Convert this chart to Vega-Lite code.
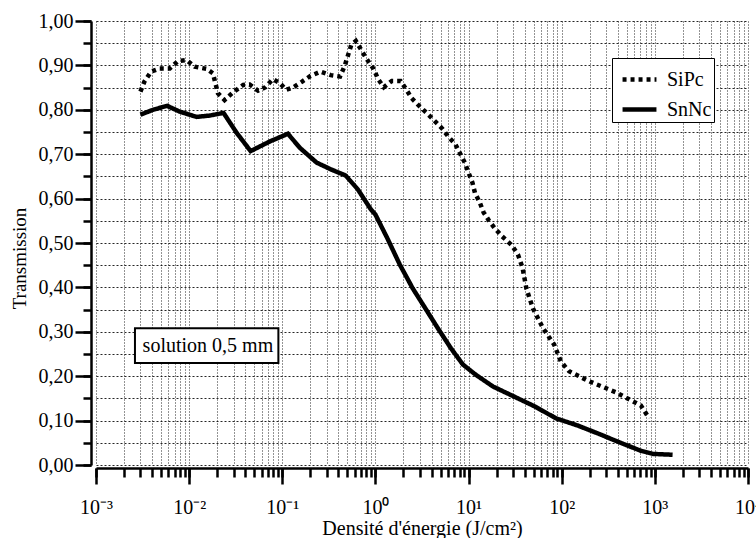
{
  "$schema": "https://vega.github.io/schema/vega-lite/v6.json",
  "width": 652,
  "height": 444,
  "autosize": {"type": "none"},
  "padding": {"left": 96, "top": 21, "right": 8, "bottom": 73},
  "background": "white",
  "config": {
    "font": "Liberation Serif",
    "view": {"stroke": null}
  },
  "datasets": {
    "curves": [
      {"sample": "SiPc", "energy": 0.003, "transmission": 0.841},
      {"sample": "SiPc", "energy": 0.0033, "transmission": 0.863},
      {"sample": "SiPc", "energy": 0.0039, "transmission": 0.886},
      {"sample": "SiPc", "energy": 0.0048, "transmission": 0.893},
      {"sample": "SiPc", "energy": 0.0062, "transmission": 0.893},
      {"sample": "SiPc", "energy": 0.0076, "transmission": 0.91},
      {"sample": "SiPc", "energy": 0.0094, "transmission": 0.912},
      {"sample": "SiPc", "energy": 0.0115, "transmission": 0.897},
      {"sample": "SiPc", "energy": 0.0155, "transmission": 0.892},
      {"sample": "SiPc", "energy": 0.018, "transmission": 0.882},
      {"sample": "SiPc", "energy": 0.0204, "transmission": 0.837},
      {"sample": "SiPc", "energy": 0.024, "transmission": 0.822},
      {"sample": "SiPc", "energy": 0.0295, "transmission": 0.839},
      {"sample": "SiPc", "energy": 0.038, "transmission": 0.856},
      {"sample": "SiPc", "energy": 0.0447, "transmission": 0.857},
      {"sample": "SiPc", "energy": 0.055, "transmission": 0.843},
      {"sample": "SiPc", "energy": 0.066, "transmission": 0.851},
      {"sample": "SiPc", "energy": 0.079, "transmission": 0.869},
      {"sample": "SiPc", "energy": 0.093, "transmission": 0.861},
      {"sample": "SiPc", "energy": 0.11, "transmission": 0.845},
      {"sample": "SiPc", "energy": 0.132, "transmission": 0.851},
      {"sample": "SiPc", "energy": 0.162, "transmission": 0.863},
      {"sample": "SiPc", "energy": 0.2, "transmission": 0.876},
      {"sample": "SiPc", "energy": 0.257, "transmission": 0.886},
      {"sample": "SiPc", "energy": 0.331, "transmission": 0.878},
      {"sample": "SiPc", "energy": 0.417, "transmission": 0.875},
      {"sample": "SiPc", "energy": 0.468, "transmission": 0.899},
      {"sample": "SiPc", "energy": 0.55, "transmission": 0.946},
      {"sample": "SiPc", "energy": 0.617, "transmission": 0.955},
      {"sample": "SiPc", "energy": 0.708, "transmission": 0.934},
      {"sample": "SiPc", "energy": 0.813, "transmission": 0.913},
      {"sample": "SiPc", "energy": 0.955, "transmission": 0.892},
      {"sample": "SiPc", "energy": 1.07, "transmission": 0.869},
      {"sample": "SiPc", "energy": 1.23, "transmission": 0.851},
      {"sample": "SiPc", "energy": 1.5, "transmission": 0.865},
      {"sample": "SiPc", "energy": 1.86, "transmission": 0.865},
      {"sample": "SiPc", "energy": 2.14, "transmission": 0.846},
      {"sample": "SiPc", "energy": 2.45, "transmission": 0.826},
      {"sample": "SiPc", "energy": 3.0, "transmission": 0.807},
      {"sample": "SiPc", "energy": 3.55, "transmission": 0.793},
      {"sample": "SiPc", "energy": 4.37, "transmission": 0.774},
      {"sample": "SiPc", "energy": 5.25, "transmission": 0.757},
      {"sample": "SiPc", "energy": 6.03, "transmission": 0.74},
      {"sample": "SiPc", "energy": 7.24, "transmission": 0.722},
      {"sample": "SiPc", "energy": 8.13, "transmission": 0.701},
      {"sample": "SiPc", "energy": 9.12, "transmission": 0.681},
      {"sample": "SiPc", "energy": 10, "transmission": 0.658},
      {"sample": "SiPc", "energy": 11, "transmission": 0.636},
      {"sample": "SiPc", "energy": 11.7, "transmission": 0.613},
      {"sample": "SiPc", "energy": 13.2, "transmission": 0.591},
      {"sample": "SiPc", "energy": 14.5, "transmission": 0.569},
      {"sample": "SiPc", "energy": 16.6, "transmission": 0.55},
      {"sample": "SiPc", "energy": 19.5, "transmission": 0.531},
      {"sample": "SiPc", "energy": 22.9, "transmission": 0.515},
      {"sample": "SiPc", "energy": 28.8, "transmission": 0.496},
      {"sample": "SiPc", "energy": 33.9, "transmission": 0.474},
      {"sample": "SiPc", "energy": 38, "transmission": 0.444},
      {"sample": "SiPc", "energy": 41.7, "transmission": 0.398},
      {"sample": "SiPc", "energy": 49, "transmission": 0.353},
      {"sample": "SiPc", "energy": 63, "transmission": 0.308},
      {"sample": "SiPc", "energy": 83, "transmission": 0.271},
      {"sample": "SiPc", "energy": 98, "transmission": 0.233},
      {"sample": "SiPc", "energy": 120, "transmission": 0.211},
      {"sample": "SiPc", "energy": 200, "transmission": 0.188},
      {"sample": "SiPc", "energy": 380, "transmission": 0.164},
      {"sample": "SiPc", "energy": 708, "transmission": 0.134},
      {"sample": "SiPc", "energy": 870, "transmission": 0.105},
      {"sample": "SnNc", "energy": 0.003, "transmission": 0.789},
      {"sample": "SnNc", "energy": 0.0041, "transmission": 0.8},
      {"sample": "SnNc", "energy": 0.0058, "transmission": 0.809},
      {"sample": "SnNc", "energy": 0.0079, "transmission": 0.796},
      {"sample": "SnNc", "energy": 0.012, "transmission": 0.784},
      {"sample": "SnNc", "energy": 0.0166, "transmission": 0.787},
      {"sample": "SnNc", "energy": 0.0234, "transmission": 0.793},
      {"sample": "SnNc", "energy": 0.0324, "transmission": 0.748},
      {"sample": "SnNc", "energy": 0.0457, "transmission": 0.707},
      {"sample": "SnNc", "energy": 0.0741, "transmission": 0.729},
      {"sample": "SnNc", "energy": 0.115, "transmission": 0.746},
      {"sample": "SnNc", "energy": 0.155, "transmission": 0.714},
      {"sample": "SnNc", "energy": 0.234, "transmission": 0.681},
      {"sample": "SnNc", "energy": 0.331, "transmission": 0.666},
      {"sample": "SnNc", "energy": 0.479, "transmission": 0.652},
      {"sample": "SnNc", "energy": 0.646, "transmission": 0.621},
      {"sample": "SnNc", "energy": 0.891, "transmission": 0.576},
      {"sample": "SnNc", "energy": 1.0, "transmission": 0.564},
      {"sample": "SnNc", "energy": 1.34, "transmission": 0.511},
      {"sample": "SnNc", "energy": 1.83, "transmission": 0.451},
      {"sample": "SnNc", "energy": 2.51, "transmission": 0.398},
      {"sample": "SnNc", "energy": 3.43, "transmission": 0.353},
      {"sample": "SnNc", "energy": 4.68, "transmission": 0.308},
      {"sample": "SnNc", "energy": 6.46, "transmission": 0.263},
      {"sample": "SnNc", "energy": 8.71, "transmission": 0.226},
      {"sample": "SnNc", "energy": 12, "transmission": 0.203},
      {"sample": "SnNc", "energy": 18.2, "transmission": 0.177},
      {"sample": "SnNc", "energy": 30.9, "transmission": 0.154},
      {"sample": "SnNc", "energy": 51.3, "transmission": 0.132},
      {"sample": "SnNc", "energy": 87, "transmission": 0.105},
      {"sample": "SnNc", "energy": 148, "transmission": 0.089},
      {"sample": "SnNc", "energy": 245, "transmission": 0.071},
      {"sample": "SnNc", "energy": 417, "transmission": 0.051},
      {"sample": "SnNc", "energy": 708, "transmission": 0.032},
      {"sample": "SnNc", "energy": 955, "transmission": 0.025},
      {"sample": "SnNc", "energy": 1550, "transmission": 0.023}
    ],
    "note": [{"label": "solution 0,5 mm"}]
  },
  "resolve": {"axis": {"x": "independent", "y": "independent"}},
  "layer": [
    {
      "data": {"name": "note"},
      "mark": {"type": "rect", "fill": "white", "stroke": "black", "strokeWidth": 2},
      "encoding": {
        "x": {
          "datum": 0.00262,
          "type": "quantitative",
          "scale": {"type": "log", "domain": [0.001, 10000], "nice": false},
          "axis": {
            "orient": "bottom",
            "values": [0.001,0.002,0.003,0.004,0.005,0.006,0.007,0.008,0.009,
                       0.01,0.02,0.03,0.04,0.05,0.06,0.07,0.08,0.09,
                       0.1,0.2,0.3,0.4,0.5,0.6,0.7,0.8,0.9,
                       1,2,3,4,5,6,7,8,9,
                       10,20,30,40,50,60,70,80,90,
                       100,200,300,400,500,600,700,800,900,
                       1000,2000,3000,4000,5000,6000,7000,8000,9000,10000],
            "labels": false,
            "domain": false,
            "tickSize": 9,
            "tickColor": "black",
            "tickWidth": 2.5,
            "offset": 3,
            "grid": true,
            "gridColor": "black",
            "gridDash": [1, 2],
            "gridWidth": 1,
            "gridOpacity": 0.85,
            "title": null
          }
        },
        "x2": {"datum": 0.0908},
        "y": {
          "datum": 0.308,
          "type": "quantitative",
          "scale": {"domain": [0, 1], "nice": false},
          "axis": {
            "orient": "left",
            "values": [0,0.05,0.1,0.15,0.2,0.25,0.3,0.35,0.4,0.45,0.5,0.55,0.6,0.65,0.7,0.75,0.8,0.85,0.9,0.95,1],
            "labels": false,
            "domain": false,
            "tickSize": 8,
            "tickColor": "black",
            "tickWidth": 2.5,
            "offset": 5,
            "grid": true,
            "gridColor": "black",
            "gridDash": [2, 2],
            "gridWidth": 1,
            "gridOpacity": 0.85,
            "title": null
          }
        },
        "y2": {"datum": 0.23}
      }
    },
    {
      "data": {"name": "note"},
      "mark": {"type": "text", "font": "Liberation Serif", "fontSize": 20, "color": "black", "baseline": "middle", "align": "center"},
      "encoding": {
        "x": {"datum": 0.0159, "type": "quantitative", "axis": null},
        "y": {"datum": 0.269, "type": "quantitative", "axis": null},
        "text": {"field": "label"}
      }
    },
    {
      "data": {"name": "curves"},
      "mark": {"type": "line", "strokeWidth": 4.5, "color": "black", "strokeCap": "butt"},
      "encoding": {
        "x": {
          "field": "energy",
          "type": "quantitative",
          "axis": {
            "orient": "bottom",
            "values": [0.001, 0.01, 0.1, 1, 10, 100, 1000, 10000],
            "labelExpr": "datum.value == 0.001 ? '10⁻³' : datum.value == 0.01 ? '10⁻²' : datum.value == 0.1 ? '10⁻¹' : datum.value == 1 ? '10⁰' : datum.value == 10 ? '10¹' : datum.value == 100 ? '10²' : datum.value == 1000 ? '10³' : '10⁴'",
            "labelFont": "Liberation Serif",
            "labelFontSize": 20,
            "labelColor": "black",
            "labelPadding": 13,
            "labelFlush": false,
            "labelOverlap": false,
            "tickSize": 16,
            "tickColor": "black",
            "tickWidth": 2.5,
            "domainColor": "black",
            "domainWidth": 2.5,
            "offset": 3,
            "grid": false,
            "title": "Densité d'énergie (J/cm²)",
            "titleFont": "Liberation Serif",
            "titleFontSize": 20,
            "titleFontWeight": "normal",
            "titleColor": "black",
            "titleBaseline": "alphabetic",
            "titleY": 66
          }
        },
        "y": {
          "field": "transmission",
          "type": "quantitative",
          "axis": {
            "orient": "left",
            "values": [0, 0.1, 0.2, 0.3, 0.4, 0.5, 0.6, 0.7, 0.8, 0.9, 1],
            "labelExpr": "replace(format(datum.value, '.2f'), '.', ',')",
            "labelFont": "Liberation Serif",
            "labelFontSize": 20,
            "labelColor": "black",
            "labelPadding": 2,
            "labelFlush": false,
            "labelOverlap": false,
            "tickSize": 16,
            "tickColor": "black",
            "tickWidth": 2.5,
            "domainColor": "black",
            "domainWidth": 2.5,
            "offset": 5,
            "grid": false,
            "title": "Transmission",
            "titleFont": "Liberation Serif",
            "titleFontSize": 19,
            "titleFontWeight": "normal",
            "titleColor": "black",
            "titleAngle": 270,
            "titleBaseline": "alphabetic",
            "titleAlign": "center",
            "titleX": -66,
            "titleY": 237
          }
        },
        "strokeDash": {
          "field": "sample",
          "type": "nominal",
          "scale": {"domain": ["SiPc", "SnNc"], "range": [[4, 4], [1, 0]]},
          "legend": {
            "title": null,
            "orient": "none",
            "legendX": 516,
            "legendY": 37,
            "symbolType": "stroke",
            "symbolSize": 1150,
            "symbolStrokeWidth": 4.5,
            "symbolStrokeColor": "black",
            "symbolOffset": 6,
            "labelFont": "Liberation Serif",
            "labelFontSize": 20,
            "labelColor": "black",
            "labelOffset": 8,
            "rowPadding": -12,
            "padding": 2,
            "strokeColor": "black",
            "fillColor": "white",
            "cornerRadius": 0
          }
        }
      }
    }
  ]
}
